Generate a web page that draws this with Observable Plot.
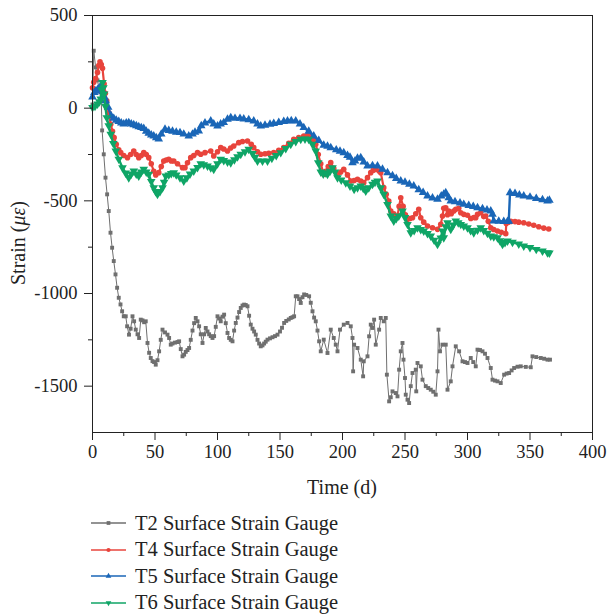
<!DOCTYPE html>
<html>
<head>
<meta charset="utf-8">
<script src="https://cdn.jsdelivr.net/npm/d3@7"></script>
<script src="https://cdn.jsdelivr.net/npm/@observablehq/plot@0.6"></script>
<style>
  body { margin: 0; background: #fff; font-family: "Liberation Serif", "Times New Roman", serif; }
  #legend { padding-top: 5px; }
  .row { display: flex; align-items: center; height: 26.5px; }
  .row svg { margin-left: 91px; margin-right: 9px; }
  .row span { font-size: 20.5px; color: #222; }
</style>
</head>
<body>
<div id="chart"></div>
<div id="legend"></div>
<script>
// ---- data: [day, strain (µε)] ----
const t2 = [[0,20],[1,310],[2.5,220],[4,150],[5.5,90],[7,40],[7.7,-120],[9,-249],[10.4,-375],[11.7,-465],[13,-555],[14.4,-672],[15.7,-753],[17,-825],[18.4,-897],[19.7,-969],[21,-1023],[22.4,-1059],[23.7,-1096],[25,-1123],[26.6,-1123],[27.7,-1177],[29.2,-1222],[30.5,-1190],[32,-1123],[33.3,-1150],[34.6,-1195],[36,-1220],[37.3,-1240],[38.6,-1141],[40,-1145],[41.3,-1155],[42.6,-1150],[44,-1267],[45.3,-1320],[46.6,-1348],[48,-1365],[49.3,-1370],[50.6,-1384],[52,-1360],[53.3,-1312],[54.6,-1250],[56,-1195],[58,-1210],[60,-1222],[61.3,-1240],[62.6,-1276],[64,-1270],[66,-1265],[68,-1262],[69.3,-1258],[70.6,-1300],[72,-1339],[73.3,-1330],[74.6,-1315],[76,-1305],[77.3,-1294],[78.6,-1250],[80,-1200],[81.3,-1160],[82.6,-1132],[84,-1150],[85.3,-1177],[86.6,-1220],[88,-1267],[89.3,-1220],[90.6,-1186],[92,-1205],[93.3,-1220],[94.6,-1230],[96,-1240],[97.3,-1230],[98.6,-1180],[100,-1123],[101.3,-1135],[102.6,-1150],[104,-1125],[105.3,-1114],[106.6,-1160],[108,-1213],[109.3,-1240],[110.6,-1250],[112,-1258],[113.3,-1200],[114.6,-1159],[116,-1130],[117.3,-1100],[118.6,-1078],[120,-1065],[121.3,-1060],[122.6,-1062],[124,-1069],[125.3,-1120],[126.6,-1168],[128,-1190],[129.3,-1205],[130.6,-1222],[132,-1250],[133.3,-1270],[134.6,-1285],[136,-1280],[137.3,-1270],[138.6,-1260],[140,-1249],[142,-1242],[144,-1236],[146,-1230],[148,-1222],[150,-1205],[151.6,-1185],[153.3,-1159],[155,-1148],[157,-1140],[158.6,-1132],[160,-1128],[161.3,-1123],[162.6,-1015],[164,-1015],[165.3,-1030],[166.6,-1051],[168,-1020],[169.3,-1005],[171,-1008],[173.3,-1015],[174.6,-1050],[176,-1096],[177.3,-1130],[178.6,-1150],[180,-1200],[181.3,-1258],[182.6,-1312],[185,-1249],[188,-1321],[190.6,-1195],[193,-1240],[194.6,-1276],[196,-1312],[198,-1195],[201,-1168],[204,-1159],[206.6,-1177],[208,-1240],[208.5,-1420],[209.3,-1276],[212,-1294],[214.6,-1357],[216.5,-1447],[217,-1366],[220,-1339],[221.3,-1231],[222.6,-1168],[224,-1186],[225.3,-1141],[226.6,-1276],[229.3,-1195],[230.6,-1132],[233,-1150],[234.6,-1132],[235.5,-1438],[237.3,-1582],[238.6,-1560],[240,-1528],[242.6,-1537],[244,-1555],[245.3,-1411],[246.6,-1312],[248,-1267],[248.8,-1357],[250,-1456],[250.6,-1546],[252,-1573],[253.3,-1591],[254.6,-1500],[256,-1429],[258.6,-1411],[259,-1528],[260,-1375],[262.6,-1393],[264,-1465],[266.6,-1500],[268.6,-1510],[270.6,-1519],[272.6,-1530],[274.6,-1546],[276,-1420],[276.8,-1195],[278,-1312],[280,-1276],[282.6,-1276],[284,-1519],[286.6,-1474],[288,-1393],[290.6,-1285],[293.3,-1312],[296,-1366],[298,-1370],[300,-1375],[302.6,-1348],[304.6,-1370],[306.6,-1393],[308,-1303],[310,-1305],[312,-1312],[314,-1325],[316,-1348],[318.6,-1402],[320,-1465],[322,-1470],[324,-1474],[326.6,-1483],[329.3,-1438],[331.3,-1432],[333.3,-1429],[335.3,-1415],[337.3,-1402],[340,-1395],[342.6,-1393],[346.6,-1396],[350.6,-1398],[352,-1339],[355,-1343],[358.6,-1348],[361.3,-1352],[364,-1357],[366,-1357]];

const t4 = [[0,110],[1,140],[2.5,160],[4,193],[5,230],[6,250],[7,235],[8,215],[9.3,130],[10.3,80],[11.4,40],[13,-25],[14.6,-87],[16,-125],[17.3,-159],[19,-195],[21,-225],[22.6,-240],[25,-255],[28,-267],[30.5,-250],[33,-231],[35,-250],[37,-267],[39,-255],[41,-240],[43,-250],[45,-267],[47,-300],[49,-340],[50.6,-360],[53,-348],[55,-315],[57,-285],[59,-280],[61,-276],[63,-285],[65,-285],[68,-300],[72,-321],[74,-321],[76,-295],[78.6,-267],[81,-255],[84,-240],[86.6,-249],[90,-240],[94.6,-231],[97,-258],[100,-235],[102.6,-213],[105,-220],[108,-231],[110.5,-215],[113,-204],[117,-186],[120,-180],[124,-177],[127,-195],[129,-213],[132,-235],[134.6,-249],[138,-246],[141,-243],[145,-240],[149,-228],[153,-213],[157,-190],[161,-168],[165,-158],[169,-150],[172,-148],[174.6,-150],[176.6,-170],[178.6,-195],[180.6,-250],[182.6,-300],[185,-357],[186.6,-340],[188.6,-315],[190.6,-294],[193,-325],[196,-357],[198.6,-345],[201,-330],[204,-360],[206.6,-393],[209.3,-390],[212,-384],[214.6,-393],[217,-402],[220,-375],[222.6,-348],[224.6,-335],[226.6,-330],[229.3,-339],[230.6,-348],[233,-429],[235,-465],[237,-501],[238.6,-555],[241,-570],[244,-582],[245.3,-530],[246.6,-483],[248.5,-530],[250.3,-575],[252,-600],[254,-595],[256,-591],[258.6,-570],[261,-546],[262.6,-591],[265,-615],[268,-636],[272,-645],[276,-654],[278.6,-627],[280,-582],[281,-540],[282.6,-537],[284,-575],[285,-555],[287,-570],[289,-555],[290.6,-546],[293,-540],[294.6,-564],[297,-573],[300,-578],[302.6,-595],[305,-590],[306.6,-591],[308,-573],[310.6,-564],[313,-585],[314.6,-582],[316.6,-610],[318.6,-645],[321,-655],[324,-663],[327,-670],[330.6,-677],[331,-622],[332.6,-615],[334.6,-611],[338,-612],[341,-615],[345,-618],[349,-625],[353,-632],[357,-640],[361,-647],[365,-652]];

const t5 = [[0,60],[1.5,85],[2.6,93],[4,100],[5.5,110],[7,120],[8.3,90],[9.5,60],[10.6,40],[12.5,5],[15,-42],[17,-55],[19,-65],[21,-72],[23,-80],[25,-85],[27,-80],[29,-78],[31,-85],[33,-90],[35,-95],[37,-100],[39,-105],[41,-110],[43,-125],[45,-135],[47,-145],[49,-150],[51,-160],[53,-166],[55,-140],[58,-114],[61,-120],[64,-125],[67,-130],[70,-132],[73,-140],[77,-150],[80,-140],[82,-130],[85,-123],[87,-95],[90,-80],[94.6,-69],[97,-85],[100,-96],[102.5,-85],[105,-78],[108,-60],[110.6,-51],[114,-55],[118,-55],[121,-58],[125,-62],[129,-69],[132,-85],[134.6,-96],[138,-92],[142,-87],[145,-83],[149,-77],[153,-72],[156,-69],[159,-68],[162.6,-69],[166,-85],[169,-105],[173,-125],[177,-150],[181,-175],[185,-200],[188,-205],[190.6,-213],[195,-225],[198,-232],[201,-240],[204,-255],[206,-265],[208,-294],[210,-285],[212,-270],[214.6,-267],[217,-290],[220,-312],[224,-310],[228,-312],[232,-330],[236,-348],[240,-365],[243,-380],[246.6,-393],[250,-400],[253.5,-410],[257,-420],[261,-440],[264.5,-455],[268,-474],[272,-485],[276,-492],[279,-474],[281,-465],[282.6,-456],[285,-483],[286.6,-501],[290,-505],[294,-512],[297,-519],[301,-525],[304.6,-531],[308,-537],[312,-543],[315.6,-550],[318.6,-555],[320,-573],[321,-609],[325,-610],[329,-611],[332,-612],[333,-610],[334,-456],[338,-460],[341.5,-468],[345,-474],[350,-480],[355,-487],[360,-494],[364,-501],[365.5,-497]];

const t6 = [[0,3],[2,10],[4,22],[5.5,35],[6.6,49],[7.3,100],[8,138],[8.7,110],[9.3,76],[10.3,10],[11.4,-51],[13,-95],[14.6,-141],[16.6,-190],[18.6,-231],[21,-275],[24,-321],[26.5,-350],[29,-375],[31,-355],[33,-339],[35,-355],[37,-366],[39,-345],[41,-330],[43,-345],[45,-357],[47,-395],[49,-430],[50.5,-450],[52,-465],[54,-450],[56,-429],[57.3,-400],[58.6,-366],[61,-360],[63,-352],[65,-348],[67,-360],[70,-375],[73,-393],[75.5,-375],[78,-355],[81,-339],[84,-320],[86.6,-300],[89,-305],[92,-312],[94.6,-322],[97,-330],[100,-300],[102.6,-276],[105,-282],[108,-290],[110.6,-294],[113.5,-278],[116,-262],[118.6,-249],[122,-235],[125,-222],[128,-245],[130,-265],[132,-285],[136,-285],[140,-285],[143.5,-270],[147,-255],[150.6,-240],[154.6,-218],[158.6,-195],[162.6,-180],[166.6,-168],[170,-166],[173,-168],[176,-195],[178.6,-231],[180.6,-295],[182.6,-345],[184.6,-355],[186.6,-348],[188,-357],[190,-340],[192,-321],[194,-345],[196,-375],[199,-388],[202.6,-402],[206,-420],[209.3,-438],[212,-430],[214.6,-420],[216.6,-432],[218.6,-447],[221,-430],[224,-411],[226,-400],[228,-393],[230.5,-430],[233,-465],[236,-520],[238.6,-582],[241,-609],[243,-595],[245,-582],[248,-555],[250,-590],[252,-627],[254.6,-672],[257.3,-660],[260,-645],[262.6,-655],[265,-663],[268,-676],[270.6,-690],[273.3,-712],[276,-735],[278.6,-700],[280,-663],[281,-699],[282.6,-640],[284,-618],[286.6,-654],[288.6,-630],[290.6,-609],[292.6,-618],[294.6,-627],[297,-636],[300,-645],[302.5,-660],[305,-672],[308,-658],[310.6,-645],[313,-660],[316,-675],[318.6,-690],[321,-694],[324,-699],[326,-715],[328,-735],[330,-725],[332,-717],[336,-724],[341,-733],[345,-744],[350,-752],[355,-762],[360,-771],[364,-780],[365.5,-782]];

const seriesNames = ["T2 Surface Strain Gauge", "T4 Surface Strain Gauge", "T5 Surface Strain Gauge", "T6 Surface Strain Gauge"];
const seriesColors = ["#6f6f6f", "#e8443c", "#1a66b7", "#0fa566"];
const xTicks = [0, 50, 100, 150, 200, 250, 300, 350, 400];
const xMinorTicks = [25, 75, 125, 175, 225, 275, 325, 375];
const yTicks = [-1500, -1000, -500, 0, 500];
const yMinorTicks = [-1250, -750, -250, 250];

// downward triangle symbol
const triangleDown = {
  draw(context, size) {
    const y = -Math.sqrt(size / (Math.sqrt(3) * 3));
    context.moveTo(0, -y * 2);
    context.lineTo(-Math.sqrt(3) * y, y);
    context.lineTo(Math.sqrt(3) * y, y);
    context.closePath();
  }
};
const seriesSymbols = ["square", "circle", "triangle", triangleDown];
const seriesR = [2.2, 2.8, 3.2, 3.2];
const seriesLineW = [1, 2.2, 2.4, 2.4];
const allSeries = [t2, t4, t5, t6];

const X = d => d[0], Y = d => d[1];
const marks = [];
allSeries.forEach((s, i) => {
  marks.push(Plot.line(s, {x: X, y: Y, stroke: seriesColors[i], strokeWidth: seriesLineW[i]}));
  marks.push(Plot.dot(s, {x: X, y: Y, symbol: seriesSymbols[i], r: seriesR[i], fill: seriesColors[i], stroke: "none"}));
});

const chart = Plot.plot({
  width: 607,
  height: 505,
  marginLeft: 92,
  marginRight: 15,
  marginTop: 15,
  marginBottom: 73,
  x: {domain: [0, 400]},
  y: {domain: [-1750, 500]},
  style: {fontFamily: "Liberation Serif, serif", fontSize: "18px", color: "#222", background: "#fff"},
  marks: [
    ...marks,
    Plot.frame({stroke: "#222", strokeWidth: 1}),
    Plot.axisX({ticks: xTicks, tickSize: 8, tickPadding: 4, tickFormat: d => String(d), label: null, fontSize: 18.5}),
    Plot.axisX({ticks: xMinorTicks, tickSize: 4, tickFormat: () => "", label: null}),
    Plot.axisY({ticks: yTicks, tickSize: 8, tickPadding: 7, tickFormat: d => String(d), label: null, fontSize: 18.5}),
    Plot.axisY({ticks: yMinorTicks, tickSize: 4, tickFormat: () => "", label: null})
  ]
});
document.getElementById("chart").appendChild(chart);

// axis titles
const svg = d3.select(chart);
svg.append("text")
  .attr("x", 342).attr("y", 494)
  .attr("text-anchor", "middle")
  .attr("font-size", 20)
  .attr("fill", "#222")
  .text("Time (d)");
const yl = svg.append("text")
  .attr("transform", "translate(25,243) rotate(-90)")
  .attr("text-anchor", "middle")
  .attr("font-size", 20)
  .attr("fill", "#222");
yl.append("tspan").text("Strain (");
yl.append("tspan").attr("font-style", "italic").text("με");
yl.append("tspan").text(")");

// legend
const legend = d3.select("#legend");
seriesNames.forEach((name, i) => {
  const row = legend.append("div").attr("class", "row");
  const sw = row.append("svg").attr("width", 35).attr("height", 12);
  sw.append("line").attr("x1", 0).attr("x2", 35).attr("y1", 6).attr("y2", 6)
    .attr("stroke", seriesColors[i]).attr("stroke-width", 1.6);
  const sym = typeof seriesSymbols[i] === "string"
    ? {square: d3.symbolSquare, circle: d3.symbolCircle, triangle: d3.symbolTriangle}[seriesSymbols[i]]
    : seriesSymbols[i];
  sw.append("path").attr("transform", "translate(17.5,6)")
    .attr("d", d3.symbol(sym, 14)()).attr("fill", seriesColors[i]);
  row.append("span").text(name);
});
</script>
</body>
</html>
